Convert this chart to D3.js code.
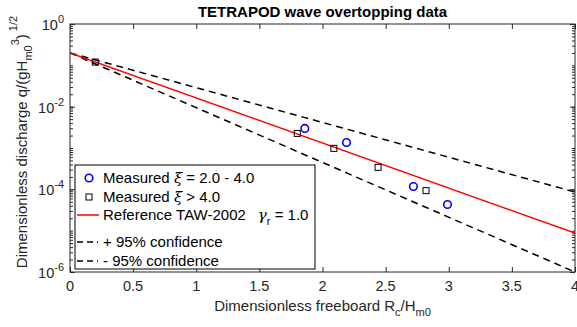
<!DOCTYPE html>
<html>
<head>
<meta charset="utf-8">
<script src="https://cdn.jsdelivr.net/npm/d3@7"></script>
<style>
  body { margin: 0; background: #fff; }
  text { font-family: "Liberation Sans", Arial, sans-serif; }
</style>
</head>
<body>
<div id="chart"></div>
<script>
// data
const xTicks = [0, 0.5, 1, 1.5, 2, 2.5, 3, 3.5, 4];
const yDecades = [1e0, 1e-2, 1e-4, 1e-6];

const mid1X = [1.86, 2.19, 2.72, 2.99];            // measured xi = 2.0 - 4.0
const mid1Y = [2.97e-3, 1.36e-3, 1.17e-4, 4.3e-5];
const mid2X = [0.2, 1.80, 2.09, 2.44, 2.82];       // measured xi > 4.0
const mid2Y = [0.12, 2.25e-3, 9.8e-4, 3.4e-4, 9.3e-5];

const lineX = [0, 4];
const refY = [0.2, 8.7e-6];
const upperY = [0.2, 8.6e-5];
const lowerY = [0.2, 1.0e-6];

// set variables
const W = 577, H = 327;
const margin = {top: 24, right: 2, bottom: 55, left: 70};
const width = W - margin.left - margin.right;
const height = H - margin.top - margin.bottom;

let x = d3.scaleLinear().domain([0, 4]).range([0, width]);
let y = d3.scaleLog().domain([1e-6, 1]).range([height, 0]);

let svg = d3.select("#chart")
  .append("svg")
  .attr("width", W)
  .attr("height", H);

let g = svg.append("g")
  .attr("transform", `translate(${margin.left}, ${margin.top})`);

g.append("defs").append("clipPath").attr("id", "clip")
  .append("rect").attr("width", width).attr("height", height);

// axes (ticks inward, box all round)
const minor = y.ticks();
function styleAxis(sel) {
  sel.select(".domain").remove();
  sel.selectAll("line").attr("stroke", "#262626");
  sel.selectAll("text").remove();
}
g.append("g").attr("transform", `translate(0,${height})`)
  .call(d3.axisBottom(x).tickValues(xTicks).tickSize(-5)).call(styleAxis);
g.append("g")
  .call(d3.axisTop(x).tickValues(xTicks).tickSize(-5)).call(styleAxis);
g.append("g")
  .call(d3.axisLeft(y).tickValues(minor).tickSize(-3)).call(styleAxis);
g.append("g").attr("transform", `translate(${width},0)`)
  .call(d3.axisRight(y).tickValues(minor).tickSize(-3)).call(styleAxis);
g.append("g")
  .call(d3.axisLeft(y).tickValues(yDecades).tickSize(-5)).call(styleAxis);
g.append("g").attr("transform", `translate(${width},0)`)
  .call(d3.axisRight(y).tickValues(yDecades).tickSize(-5)).call(styleAxis);

// x tick labels
g.selectAll(".xlab")
  .data(xTicks)
  .enter()
  .append("text")
  .attr("x", d => x(d))
  .attr("y", height + 19)
  .attr("text-anchor", "middle")
  .attr("font-size", 14.5)
  .attr("fill", "#262626")
  .text(d => d);

// y tick labels 10^n
let yl = g.selectAll(".ylab")
  .data(yDecades)
  .enter()
  .append("text")
  .attr("x", -6)
  .attr("y", d => y(d) + 6)
  .attr("text-anchor", "end")
  .attr("font-size", 14.5)
  .attr("fill", "#262626");
yl.append("tspan").text("10");
yl.append("tspan").attr("dy", -7).attr("font-size", 11)
  .text(d => Math.round(Math.log10(d)) === 0 ? "0" : Math.round(Math.log10(d)));

// lines
let line = d3.line().x(d => x(d[0])).y(d => y(d[1]));
let plot = g.append("g").attr("clip-path", "url(#clip)");

plot.append("path")
  .datum(d3.zip(lineX, upperY))
  .attr("d", line).attr("fill", "none")
  .attr("stroke", "#000").attr("stroke-width", 1.5)
  .attr("stroke-dasharray", "7,5");
plot.append("path")
  .datum(d3.zip(lineX, lowerY))
  .attr("d", line).attr("fill", "none")
  .attr("stroke", "#000").attr("stroke-width", 1.5)
  .attr("stroke-dasharray", "7,5");
plot.append("path")
  .datum(d3.zip(lineX, refY))
  .attr("d", line).attr("fill", "none")
  .attr("stroke", "#ff0000").attr("stroke-width", 1.5);

// markers
plot.selectAll(".sq")
  .data(d3.zip(mid2X, mid2Y))
  .enter()
  .append("rect")
  .attr("x", d => x(d[0]) - 3)
  .attr("y", d => y(d[1]) - 3)
  .attr("width", 6).attr("height", 6)
  .attr("fill", "none").attr("stroke", "#000").attr("stroke-width", 1);

plot.selectAll(".circ")
  .data(d3.zip(mid1X, mid1Y))
  .enter()
  .append("circle")
  .attr("cx", d => x(d[0]))
  .attr("cy", d => y(d[1]))
  .attr("r", 3.8)
  .attr("fill", "none").attr("stroke", "#0000ff").attr("stroke-width", 1.6);

// frame
g.append("rect")
  .attr("width", width).attr("height", height)
  .attr("fill", "none").attr("stroke", "#262626").attr("stroke-width", 1);

// legend
let lg = g.append("g").attr("transform", "translate(5,141)");
lg.append("rect")
  .attr("width", 240).attr("height", 104)
  .attr("fill", "#fff").attr("stroke", "#000").attr("stroke-width", 1);

lg.append("circle").attr("cx", 14).attr("cy", 13).attr("r", 3.8)
  .attr("fill", "none").attr("stroke", "#0000ff").attr("stroke-width", 1.6);
lg.append("rect").attr("x", 11).attr("y", 29).attr("width", 6).attr("height", 6)
  .attr("fill", "none").attr("stroke", "#000");
lg.append("line").attr("x1", 2).attr("x2", 24).attr("y1", 50).attr("y2", 50)
  .attr("stroke", "#ff0000").attr("stroke-width", 1.5);
lg.append("line").attr("x1", 2).attr("x2", 23).attr("y1", 77).attr("y2", 77)
  .attr("stroke", "#000").attr("stroke-width", 1.5).attr("stroke-dasharray", "6,4");
lg.append("line").attr("x1", 2).attr("x2", 23).attr("y1", 96).attr("y2", 96)
  .attr("stroke", "#000").attr("stroke-width", 1.5).attr("stroke-dasharray", "6,4");

function legText(yy) {
  return lg.append("text").attr("x", 28).attr("y", yy)
    .attr("font-size", 15).attr("fill", "#000");
}
let t1 = legText(18);
t1.append("tspan").text("Measured ");
t1.append("tspan").attr("font-style", "italic").attr("font-family", "DejaVu Serif").text("ξ");
t1.append("tspan").text(" = 2.0 - 4.0");
let t2 = legText(37);
t2.append("tspan").text("Measured ");
t2.append("tspan").attr("font-style", "italic").attr("font-family", "DejaVu Serif").text("ξ");
t2.append("tspan").text(" > 4.0");
let t3 = legText(55);
t3.append("tspan").text("Reference TAW-2002");
t3.append("tspan").attr("dx", 12).attr("font-style", "italic").attr("font-family", "DejaVu Serif").text("γ");
t3.append("tspan").attr("dy", 5).attr("font-size", 11).text("r");
t3.append("tspan").attr("dy", -5).text(" = 1.0");
legText(82).text("+ 95% confidence");
legText(101).text("- 95% confidence");

// title
svg.append("text")
  .attr("x", margin.left + width / 2)
  .attr("y", 17)
  .attr("text-anchor", "middle")
  .attr("font-size", 15)
  .attr("font-weight", "bold")
  .text("TETRAPOD wave overtopping data");

// x label
let xl = svg.append("text")
  .attr("x", margin.left + width / 2)
  .attr("y", 311)
  .attr("text-anchor", "middle")
  .attr("font-size", 15)
  .attr("fill", "#262626");
xl.append("tspan").text("Dimensionless freeboard R");
xl.append("tspan").attr("dy", 5).attr("font-size", 11).text("c");
xl.append("tspan").attr("dy", -5).text("/H");
xl.append("tspan").attr("dy", 5).attr("font-size", 11).text("m0");

// y label
let ylab = svg.append("text")
  .attr("transform", `translate(27,${margin.top + height / 2 - 6}) rotate(-90)`)
  .attr("text-anchor", "middle")
  .attr("font-size", 15)
  .attr("fill", "#262626");
ylab.append("tspan").text("Dimensionless discharge q/(gH");
ylab.append("tspan").attr("dy", 5).attr("font-size", 11).text("m0");
ylab.append("tspan").attr("dy", -13).attr("font-size", 11).text("3");
ylab.append("tspan").attr("dy", 8).text(")");
ylab.append("tspan").attr("dy", -10).attr("font-size", 11).text(" 1/2");
</script>
</body>
</html>
